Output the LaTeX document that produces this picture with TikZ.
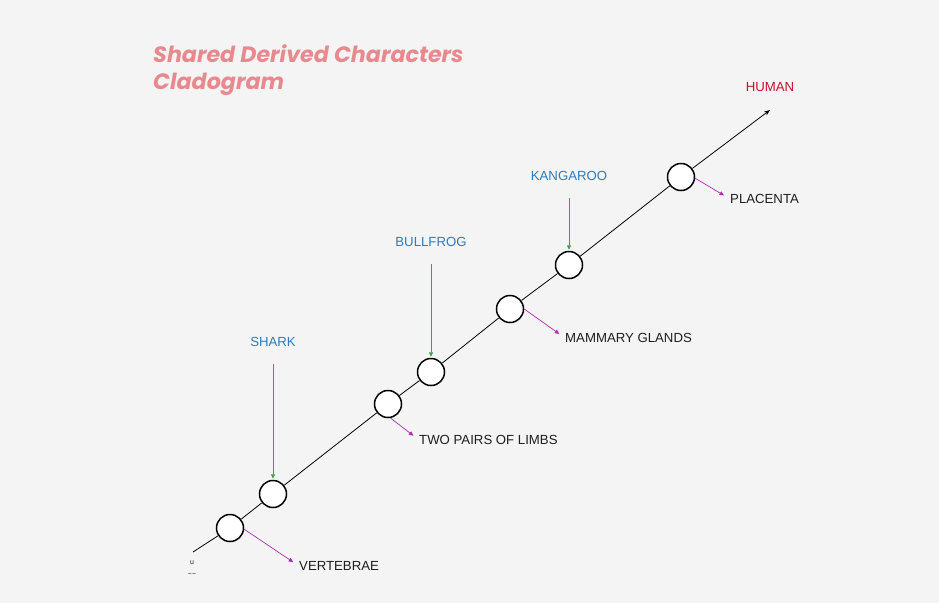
\documentclass[tikz,border=0pt]{standalone}
\usepackage{fontspec}
\setmainfont{Liberation Sans}
\newfontfamily\titlefont{Poppins}
\usetikzlibrary{arrows.meta, positioning}
\definecolor{bgcol}{HTML}{F4F4F4}
\definecolor{titlepink}{HTML}{E8898E}
\definecolor{taxonblue}{HTML}{2B7CC0}
\definecolor{humanred}{HTML}{C8102E}
\definecolor{traitpurple}{HTML}{B02AB0}
\definecolor{linkgreen}{HTML}{3E9E52}
\definecolor{inkgray}{HTML}{1E1E1E}
\newcommand{\drawTrait}[2]{\draw[trait] (#1) -- (#2);}
\newcommand{\drawTaxon}[2]{\draw[taxonlink] (#1.south) -- (#2.north);}
\tikzset{x=1pt, y=-1pt,
    clade/.style={circle,draw,fill=white,minimum size=27pt,inner sep=0pt,line width=1.5pt},
    stem/.style={draw=black,line width=0.8pt},
    tipline/.style={stem,-{Stealth[length=6pt,width=4.5pt]}},
    trait/.style={draw=traitpurple,line width=0.7pt,shorten >=7pt,-{Triangle[length=4.5pt,width=4pt]}},
    taxonlink/.style={draw=linkgreen,line width=0.7pt,shorten <=17pt,shorten >=1pt,-{Triangle[length=4.5pt,width=4pt]}},
    traitlabel/.style={anchor=west,inner sep=0pt,text=inkgray,font=\fontsize{13.2}{15}\selectfont},
    taxonlabel/.style={inner sep=0pt,text=taxonblue,font=\fontsize{13.2}{15}\selectfont},
    titletext/.style={anchor=base west,inner sep=0pt,text=titlepink,font=\titlefont\bfseries\itshape\fontsize{22.2}{27}\selectfont},
    straytext/.style={inner sep=0pt,text=inkgray,font=\fontsize{7}{7}\selectfont}}
\begin{document}
\begin{tikzpicture}
\fill[bgcol] (0,0) rectangle (939,603);
\useasboundingbox (0,0) rectangle (939,603);
% title
\node[titletext] (title1) at (153,62) {Shared Derived Characters};
\node[titletext] (title2) at (153,89) {Cladogram};
% main line
\coordinate (root) at (193,552);
\coordinate (tip)  at (770,110);
\node[clade] (c1) at (230,528) {};
\node[clade] (c2) at (273,494) {};
\node[clade] (c3) at (388,404) {};
\node[clade] (c4) at (431,372) {};
\node[clade] (c5) at (510,309) {};
\node[clade] (c6) at (569,265) {};
\node[clade] (c7) at (681,177) {};
\path[stem]
    (root) edge (c1)
    (c1)   edge (c2)
    (c2)   edge (c3)
    (c3)   edge (c4)
    (c4)   edge (c5)
    (c5)   edge (c6)
    (c6)   edge (c7);
\draw[tipline] (c7) -- (tip);
% traits
\node[traitlabel] (vert)  at (299,566) {VERTEBRAE};
\node[traitlabel] (limbs) at (419,440) {TWO PAIRS OF LIMBS};
\node[traitlabel] (mamm)  at (565,338) {MAMMARY GLANDS};
\node[traitlabel] (plac)  at (730,199) {PLACENTA};
\drawTrait{c1.-5}{vert.west}
\drawTrait{c3.-80}{limbs.west}
\drawTrait{c5.0}{mamm.west}
\drawTrait{c7.-5}{plac.west}
% taxa
\node[taxonlabel] (shark)    at (273,342) {SHARK};
\node[taxonlabel] (bullfrog) at (431,242) {BULLFROG};
\node[taxonlabel] (kangaroo) at (569,176) {KANGAROO};
\node[taxonlabel,text=humanred] (human) at (770,87) {HUMAN};
\drawTaxon{shark}{c2}
\drawTaxon{bullfrog}{c4}
\drawTaxon{kangaroo}{c6}
% stray marks
\node[straytext] (mark1) at (192,563) {u};
\node[straytext] (mark2) at (192,575) {\textasciitilde\textasciitilde};
\end{tikzpicture}
\end{document}
